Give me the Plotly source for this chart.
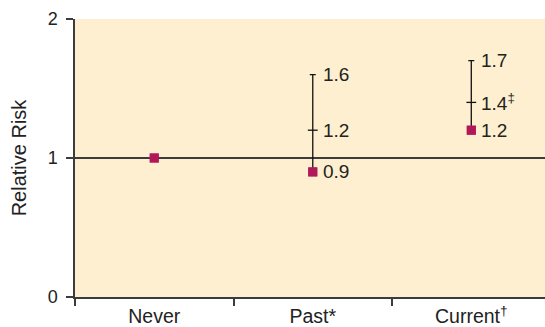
import plotly.graph_objects as go

categories = ["Never", "Past*", "Current<sup>†</sup>"]
rr = [1.0, 0.9, 1.2]
ci_upper = [None, 1.6, 1.7]
mid_values = [None, 1.2, 1.4]
label_point = ["", "0.9", "1.2"]
label_mid = ["", "1.2", "1.4<sup>‡</sup>"]
label_upper = ["", "1.6", "1.7"]

FONT = "Liberation Sans, Arial, Helvetica, sans-serif"
MARK = "#B0185A"
BG = "#FDEFCF"
LINE = "#3c3c3c"

err_plus = [(u - v) if u is not None else 0 for u, v in zip(ci_upper, rr)]

fig = go.Figure()
fig.add_trace(go.Scatter(
    x=categories, y=rr, mode="markers",
    marker=dict(symbol="square", size=9, color=MARK),
    error_y=dict(type="data", symmetric=False, array=err_plus,
                 arrayminus=[0, 0, 0], color="#111", thickness=1.3, width=3),
    showlegend=False, hoverinfo="skip",
))
mx = [c for c, m in zip(categories, mid_values) if m is not None]
my = [m for m in mid_values if m is not None]
fig.add_trace(go.Scatter(
    x=mx, y=my, mode="markers",
    marker=dict(symbol="line-ew", size=7, line=dict(color="#111", width=1.3)),
    showlegend=False, hoverinfo="skip",
))
fig.add_trace(go.Scatter(
    x=categories, y=rr, mode="markers",
    marker=dict(symbol="square", size=9, color=MARK),
    showlegend=False, hoverinfo="skip",
))

for c, v, m, u, lp, lm, lu in zip(categories, rr, mid_values, ci_upper,
                                  label_point, label_mid, label_upper):
    for yy, txt in ((v, lp), (m, lm), (u, lu)):
        if yy is None or not txt:
            continue
        fig.add_annotation(x=c, y=yy, text=txt, showarrow=False,
                           xanchor="left", yanchor="middle", xshift=8,
                           font=dict(family=FONT, size=19, color="#222"))

fig.update_layout(
    width=545, height=327,
    margin=dict(l=75, r=0, t=19, b=30, autoexpand=False),
    paper_bgcolor="white", plot_bgcolor=BG,
    font=dict(family=FONT, color="#222"),
)
fig.update_xaxes(
    type="category", range=[-0.5, 2.465],
    tickson="boundaries", ticks="outside", ticklen=7, tickwidth=1.5, tickcolor=LINE,
    showline=True, linecolor=LINE, linewidth=1.5, showgrid=False,
    ticklabelstandoff=1,
    tickfont=dict(family=FONT, size=19.5, color="#222"),
)
fig.update_yaxes(
    range=[0, 2], tickvals=[0, 1, 2],
    ticks="outside", ticklen=7, tickwidth=1.5, tickcolor=LINE,
    showline=True, linecolor=LINE, linewidth=1.5,
    showgrid=True, gridcolor=LINE, gridwidth=1.5, zeroline=False,
    ticklabelstandoff=5,
    tickfont=dict(family=FONT, size=18, color="#222"),
    title=dict(text="Relative Risk", font=dict(family=FONT, size=20, color="#222"), standoff=16),
)

fig.write_html("out.html", config={"displayModeBar": False},
               post_script="document.body.style.margin='0';")
